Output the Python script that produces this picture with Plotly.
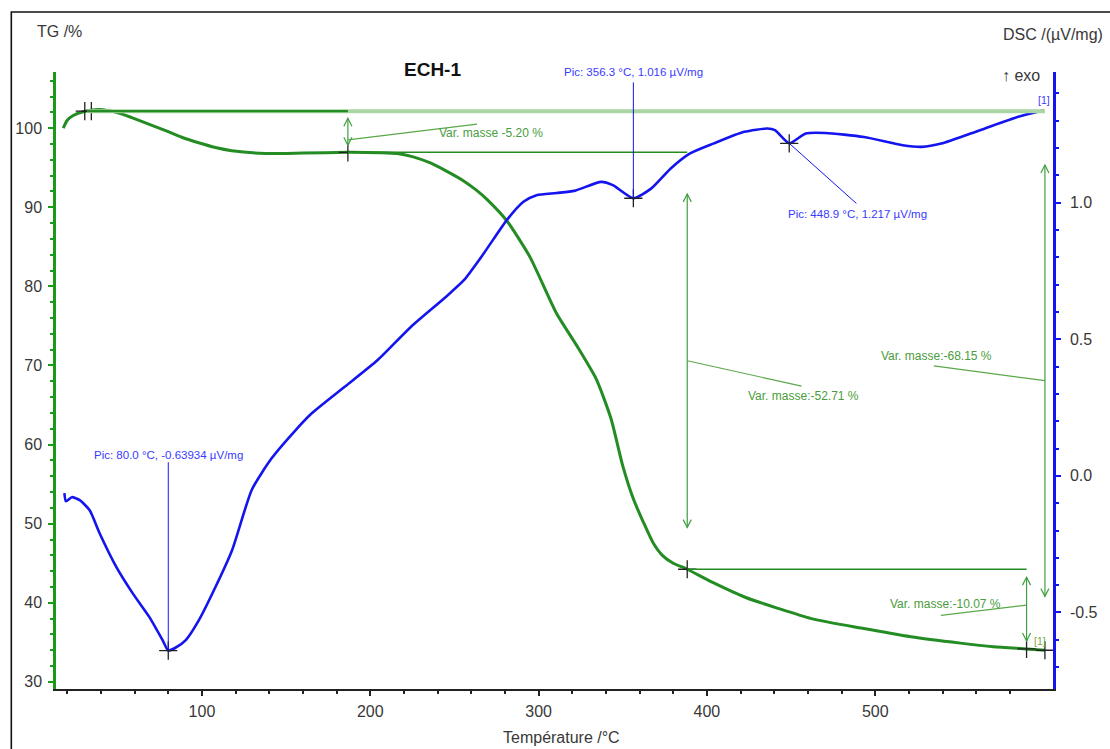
import plotly.graph_objects as go

# ---- TG curve (mass, %) ----
tg_temp = [17.6, 20.0, 23.5, 30.0, 39.0, 50.0, 58.7, 68.0, 78.8, 88.0, 98.0, 108.0,
           117.7, 137.6, 160.0, 186.7, 206.0, 216.0, 225.0, 235.7, 245.0, 255.7,
           263.4, 269.3, 281.1, 294.9, 310.6, 322.4, 334.2, 343.0, 350.0, 356.0,
           362.0, 368.0, 374.0, 380.0, 388.3, 403.1, 422.7, 442.2, 462.0, 491.5,
           521.1, 550.6, 570.2, 589.9, 600.8]
tg_mass = [100.0, 101.0, 101.6, 102.1, 102.35, 101.95, 101.3, 100.55, 99.65, 98.85, 98.15, 97.55,
           97.15, 96.8, 96.85, 96.95, 96.9, 96.8, 96.4, 95.6, 94.6, 93.3,
           92.1, 91.0, 88.3, 83.7, 76.6, 72.6, 68.3, 63.3, 57.3, 53.3,
           50.3, 47.6, 45.9, 45.0, 44.24, 42.6, 40.7, 39.3, 38.0, 36.8,
           35.7, 34.9, 34.45, 34.17, 34.0]

# ---- DSC curve (uV/mg) ----
dsc_temp = [18.3, 19.2, 22.7, 27.4, 33.3, 39.2, 49.1, 58.9, 68.7, 76.6, 80.0, 84.0,
            90.4, 98.2, 108.1, 117.9, 129.7, 141.5, 155.3, 165.1, 184.8, 204.4,
            224.1, 243.8, 255.6, 267.4, 281.1, 291.0, 298.8, 310.6, 321.2, 337.2,
            344.1, 356.3, 367.0, 378.5, 390.0, 403.8, 422.1, 435.9, 440.4, 448.9,
            458.7, 470.3, 493.3, 516.3, 527.7, 539.2, 562.2, 585.0, 600.1]
dsc_signal = [-0.063, -0.093, -0.078, -0.089, -0.126, -0.210, -0.333, -0.430, -0.516, -0.601, -0.63934, -0.630,
              -0.601, -0.528, -0.406, -0.272, -0.05, 0.065, 0.165, 0.228, 0.326, 0.424,
              0.545, 0.649, 0.716, 0.814, 0.936, 1.003, 1.027, 1.035, 1.043, 1.076,
              1.064, 1.016, 1.052, 1.125, 1.180, 1.216, 1.259, 1.271, 1.265, 1.217,
              1.253, 1.255, 1.240, 1.210, 1.204, 1.216, 1.265, 1.314, 1.338]

# ---- mass-change steps ----
step_temp = [186.7, 388.3, 589.9, 600.8]
step_top = [102.15, 96.95, 44.24, 102.15]
step_change = [-5.20, -52.71, -10.07, -68.15]
step_label = ["Var. masse -5.20 %", "Var. masse:-52.71 %",
              "Var. masse:-10.07 %", "Var. masse:-68.15 %"]
step_label_pos = [(272.0, 99.4), (457.5, 66.1), (541.5, 39.8), (536.5, 71.2)]
step_leader_end = [(263.4, 100.5), (456.2, 67.4), (539.0, 38.4), (534.8, 69.95)]
step_leader_frac = [0.7, 0.5, 0.45, 0.5]
level_start = [32.0, 186.7, 388.3]
level_value = [102.15, 96.95, 44.24]
level_end = [186.7, 388.3, 589.9]
start_marks = [30.4, 34.3]

# ---- DSC peaks ----
peak_temp = [80.0, 356.3, 448.9]
peak_signal = [-0.63934, 1.016, 1.217]
peak_label_pos = [(80.0, 0.076), (356.3, 1.477), (489.5, 0.957)]
peak_leader_end = [(80.0, 0.05), (356.3, 1.44), (488.8, 0.997)]

# ---- axes ----
x_range = [13.3, 605.6]
x_ticks = [100, 200, 300, 400, 500]
x_minor = [t for t in range(20, 600, 20) if t % 100]
tg_range = [29.1, 107.1]
dsc_range = [-0.78, 1.478]
dsc_ticks = [-0.5, 0.0, 0.5, 1.0]

GREEN = "#238c23"
LIGHT_GREEN = "#a9d6a2"
ANNOT_GREEN = "#4a9c3c"
BLUE = "#1414ee"
TEXT_BLUE = "#3a3aff"
TXT = "#383838"
FONT = "Liberation Sans, Arial, sans-serif"

W, H = 1110, 749
L, R, T, B = 56, 50, 72, 60


def paper_x(px):
    return (px - L) / (W - L - R)


def paper_y(py):
    return (H - B - py) / (H - T - B)


fig = go.Figure()

fig.add_trace(go.Scatter(x=dsc_temp, y=dsc_signal, yaxis="y2", mode="lines",
                         line=dict(color=BLUE, width=2.6, shape="spline", smoothing=0.6),
                         hoverinfo="skip", showlegend=False))
fig.add_trace(go.Scatter(x=tg_temp, y=tg_mass, yaxis="y", mode="lines",
                         line=dict(color=GREEN, width=3, shape="spline", smoothing=0.6),
                         hoverinfo="skip", showlegend=False))

shapes = []

# light reference line for the overall loss, drawn first
shapes.append(dict(type="line", xref="x", yref="y", x0=level_start[0], x1=step_temp[3],
                   y0=level_value[0], y1=level_value[0],
                   line=dict(color=LIGHT_GREEN, width=4)))
for xs, yv, xe in zip(level_start, level_value, level_end):
    shapes.append(dict(type="line", xref="x", yref="y", x0=xs, x1=xe, y0=yv, y1=yv,
                       line=dict(color=GREEN, width=1.6 if xs > 40 else 2.2)))

# double arrows for each mass change
head_dx = 2.4   # degC, half width of an arrow head
head_dy = 1.0   # %, length of an arrow head
for t, top, ch, (ex, ey), fr in zip(step_temp, step_top, step_change,
                                     step_leader_end, step_leader_frac):
    bot = top + ch
    inset = max(0.1 * abs(ch), 0.9)
    y_hi, y_lo = top - inset, bot + inset
    shapes.append(dict(type="line", xref="x", yref="y", x0=t, x1=t, y0=y_lo, y1=y_hi,
                       line=dict(color="#3f9f3f", width=1.2)))
    shapes.append(dict(type="path", xref="x", yref="y",
                       path=f"M{t - head_dx},{y_hi - head_dy} L{t},{y_hi} L{t + head_dx},{y_hi - head_dy}",
                       line=dict(color="#3f9f3f", width=1.2)))
    shapes.append(dict(type="path", xref="x", yref="y",
                       path=f"M{t - head_dx},{y_lo + head_dy} L{t},{y_lo} L{t + head_dx},{y_lo + head_dy}",
                       line=dict(color="#3f9f3f", width=1.2)))
    ym = top + fr * ch
    shapes.append(dict(type="line", xref="x", yref="y", x0=t, x1=ex, y0=ym, y1=ey,
                       line=dict(color="#5aa84a", width=1.2)))

# DSC peak leaders
for (px_, pv), (ex, ey) in zip(zip(peak_temp, peak_signal), peak_leader_end):
    shapes.append(dict(type="line", xref="x", yref="y2", x0=px_, x1=ex, y0=pv, y1=ey,
                       line=dict(color=BLUE, width=1)))

# outer frame
shapes.append(dict(type="rect", xref="paper", yref="paper",
                   x0=paper_x(11), x1=paper_x(1125), y0=paper_y(765), y1=paper_y(12),
                   line=dict(color="#111", width=1.6), layer="below"))

# cross markers
fig.add_trace(go.Scatter(
    x=start_marks + step_temp,
    y=[level_value[0]] * len(start_marks) + [tp + c for tp, c in zip(step_top, step_change)],
    yaxis="y", mode="markers", hoverinfo="skip", showlegend=False,
    marker=dict(symbol="cross-thin", size=13, line=dict(color="#222", width=1.3))))
fig.add_trace(go.Scatter(x=peak_temp, y=peak_signal, yaxis="y2", mode="markers",
                         hoverinfo="skip", showlegend=False,
                         marker=dict(symbol="cross-thin", size=13, line=dict(color="#222", width=1.3))))

annotations = []
for txt, (lx, ly) in zip(step_label, step_label_pos):
    annotations.append(dict(x=lx, y=ly, xref="x", yref="y", text=txt, showarrow=False,
                            xanchor="center", yanchor="middle",
                            font=dict(family=FONT, size=12, color=ANNOT_GREEN)))
for t, v, (lx, ly) in zip(peak_temp, peak_signal, peak_label_pos):
    annotations.append(dict(x=lx, y=ly, xref="x", yref="y2",
                            text=f"Pic: {t:.1f} °C, {v:g} µV/mg", showarrow=False,
                            xanchor="center", yanchor="middle",
                            font=dict(family=FONT, size=11.5, color=TEXT_BLUE)))


def page_text(px, py, text, size, color=TXT, anchor="center", bold=False):
    return dict(x=paper_x(px), y=paper_y(py), xref="paper", yref="paper",
                text=f"<b>{text}</b>" if bold else text, showarrow=False,
                xanchor=anchor, yanchor="middle",
                font=dict(family=FONT, size=size, color=color))


annotations += [
    page_text(435, 70, "ECH-1", 19, color="#111", bold=True),
    page_text(35, 32, "TG /%", 16, anchor="left"),
    page_text(1008, 35, "DSC /(µV/mg)", 16, anchor="left"),
    page_text(1028, 75, "↑ exo", 16),
    page_text(565, 737, "Température /°C", 16),
    dict(x=600.0, y=1.375, xref="x", yref="y2", text="[1]", showarrow=False,
         xanchor="center", yanchor="middle",
         font=dict(family=FONT, size=10.5, color=TEXT_BLUE)),
    dict(x=598.0, y=35.15, xref="x", yref="y", text="[1]", showarrow=False,
         xanchor="center", yanchor="middle",
         font=dict(family=FONT, size=10.5, color="#7aa84a")),
]

tick_font = dict(family=FONT, size=16, color=TXT)

fig.update_layout(
    width=W, height=H,
    margin=dict(l=L, r=R, t=T, b=B, pad=0),
    paper_bgcolor="white", plot_bgcolor="white",
    showlegend=False,
    shapes=shapes,
    annotations=annotations,
    xaxis=dict(range=x_range, showgrid=False, zeroline=False,
               showline=True, linecolor="#222", linewidth=2,
               ticks="outside", ticklen=5, tickwidth=1.5, tickcolor="#222",
               tickvals=x_ticks, tickfont=tick_font, ticklabelstandoff=2,
               minor=dict(ticks="outside", tickvals=x_minor, ticklen=3, tickwidth=1.5,
                          tickcolor="#222", showgrid=False)),
    yaxis=dict(range=tg_range, showgrid=False, zeroline=False,
               showline=True, linecolor="#1a9a1a", linewidth=2.5,
               ticks="outside", ticklen=5, tickwidth=1.5, tickcolor="#1a9a1a",
               tick0=0, dtick=10, tickfont=tick_font, ticklabelstandoff=3,
               minor=dict(ticks="outside", dtick=2, tick0=0, ticklen=3, tickwidth=1.5,
                          tickcolor="#1a9a1a", showgrid=False)),
    yaxis2=dict(range=dsc_range, overlaying="y", side="right", anchor="x",
                showgrid=False, zeroline=False,
                showline=True, linecolor=BLUE, linewidth=2.5,
                ticks="outside", ticklen=5, tickwidth=1.5, tickcolor=BLUE,
                tickvals=dsc_ticks, ticktext=[f"{v:.1f}" for v in dsc_ticks],
                tickfont=tick_font, ticklabelstandoff=6,
                minor=dict(ticks="outside", dtick=0.1, tick0=0, ticklen=3, tickwidth=1.5,
                           tickcolor=BLUE, showgrid=False)),
)

fig.write_html("out.html")
